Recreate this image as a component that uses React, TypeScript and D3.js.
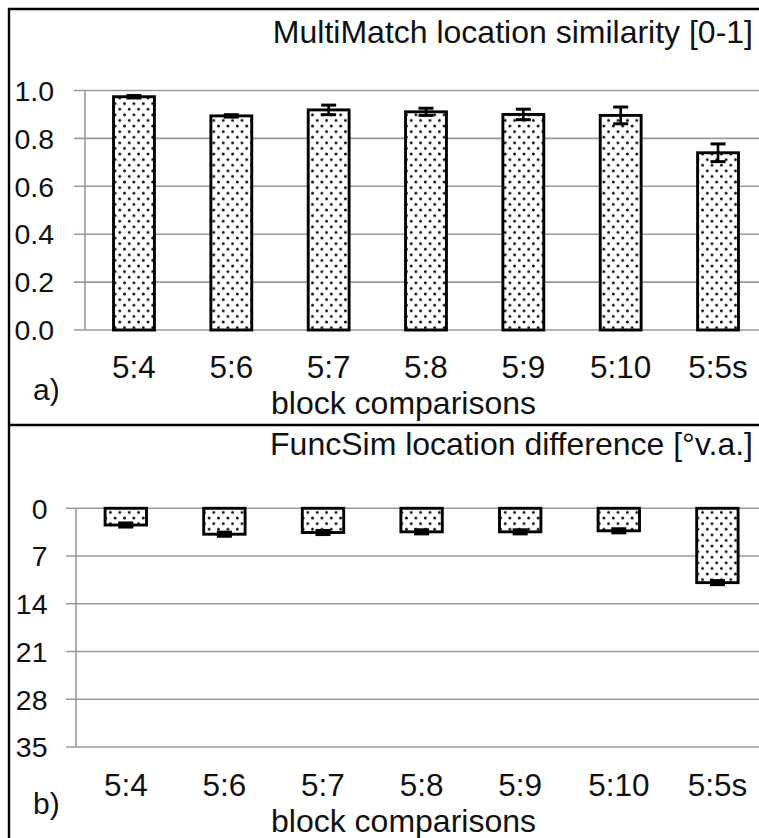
import React from "react";
import * as d3 from "d3";

const categories = ["5:4", "5:6", "5:7", "5:8", "5:9", "5:10", "5:5s"];
const simValues = [0.974, 0.894, 0.919, 0.911, 0.9, 0.896, 0.74];
const simErrors = [0.005, 0.005, 0.02, 0.015, 0.022, 0.035, 0.037];
const simTicks = [0, 0.2, 0.4, 0.6, 0.8, 1.0];
const diffValues = [2.45, 3.8, 3.55, 3.45, 3.45, 3.3, 10.9];
const diffErrors = [0.3, 0.3, 0.3, 0.3, 0.3, 0.3, 0.3];
const diffTicks = [0, 7, 14, 21, 28, 35];

const titleA = "MultiMatch location similarity [0-1]";
const titleB = "FuncSim location difference [°v.a.]";
const xTitle = "block comparisons";

const FONT = "Liberation Sans, Arial, sans-serif";
const GRID = "#9a9a9a";

type PanelProps = {
  values: number[];
  errors: number[];
  ticks: number[];
  domain: [number, number];
  yRange: [number, number];
  xRange: [number, number];
  axisX: number;
  tickStart: number;
  labelX: number;
  fmt: (v: number) => string;
  title: string;
  titleY: number;
  xLabelY: number;
  panelLabel: string;
  panelLabelY: number;
  xTitleY: number;
};

function Panel(p: PanelProps) {
  const x = d3
    .scaleBand<string>()
    .domain(categories)
    .range(p.xRange)
    .paddingInner(0.58)
    .paddingOuter(0.29);
  const y = d3.scaleLinear().domain(p.domain).range(p.yRange);
  const bw = x.bandwidth();
  const capW = 15;
  return (
    <g>
      {p.ticks.map((t) => (
        <g key={t}>
          <line x1={p.tickStart} x2={759} y1={y(t)} y2={y(t)} stroke={GRID} strokeWidth={1.6} />
          <text
            x={p.labelX}
            y={y(t)}
            dy="0.36em"
            textAnchor="end"
            fontFamily={FONT}
            fontSize={28.5}
            fill="#111"
          >
            {p.fmt(t)}
          </text>
        </g>
      ))}
      <line
        x1={p.axisX}
        x2={p.axisX}
        y1={y(p.domain[0])}
        y2={y(p.domain[1])}
        stroke={GRID}
        strokeWidth={1.6}
      />
      {categories.map((c, i) => {
        const v = p.values[i];
        const e = p.errors[i];
        const x0 = x(c)!;
        const cx = x0 + bw / 2;
        const yTop = Math.min(y(0), y(v));
        const h = Math.abs(y(v) - y(0));
        return (
          <g key={c}>
            <rect
              x={x0}
              y={yTop}
              width={bw}
              height={h}
              fill="url(#dots)"
              stroke="#000"
              strokeWidth={2.9}
            />
            <line x1={cx} x2={cx} y1={y(v - e)} y2={y(v + e)} stroke="#000" strokeWidth={2.6} />
            <line x1={cx - capW / 2} x2={cx + capW / 2} y1={y(v - e)} y2={y(v - e)} stroke="#000" strokeWidth={3} />
            <line x1={cx - capW / 2} x2={cx + capW / 2} y1={y(v + e)} y2={y(v + e)} stroke="#000" strokeWidth={3} />
            <text
              x={cx}
              y={p.xLabelY}
              textAnchor="middle"
              fontFamily={FONT}
              fontSize={31.5}
              fill="#111"
            >
              {c}
            </text>
          </g>
        );
      })}
      <text x={753} y={p.titleY} textAnchor="end" fontFamily={FONT} fontSize={32} fill="#111">
        {p.title}
      </text>
      <text x={33} y={p.panelLabelY} fontFamily={FONT} fontSize={30} fill="#111">
        {p.panelLabel}
      </text>
      <text x={403.5} y={p.xTitleY} textAnchor="middle" fontFamily={FONT} fontSize={32} fill="#111">
        {xTitle}
      </text>
    </g>
  );
}

export default function App() {
  return (
    <svg
      width={759}
      height={838}
      style={{ position: "absolute", left: 0, top: 0, background: "#fff" }}
    >
      <defs>
        <pattern id="dots" patternUnits="userSpaceOnUse" width={9.4} height={11.2}>
          <rect width={9.4} height={11.2} fill="#fff" />
          <circle cx={2.3} cy={2.8} r={1.4} fill="#000" />
          <circle cx={7} cy={8.4} r={1.4} fill="#000" />
        </pattern>
      </defs>
      <rect x={0} y={0} width={759} height={838} fill="#fff" />
      <Panel
        values={simValues}
        errors={simErrors}
        ticks={simTicks}
        domain={[0, 1]}
        yRange={[330, 90.5]}
        xRange={[85.3, 766.7]}
        axisX={85}
        tickStart={74}
        labelX={54}
        fmt={(v) => d3.format(".1f")(v)}
        title={titleA}
        titleY={43}
        xLabelY={378}
        panelLabel="a)"
        panelLabelY={400}
        xTitleY={413.5}
      />
      <Panel
        values={diffValues}
        errors={diffErrors}
        ticks={diffTicks}
        domain={[0, 35]}
        yRange={[508.3, 747]}
        xRange={[76.5, 766.7]}
        axisX={76}
        tickStart={66}
        labelX={47.5}
        fmt={(v) => String(v)}
        title={titleB}
        titleY={455}
        xLabelY={795.5}
        panelLabel="b)"
        panelLabelY={814}
        xTitleY={832}
      />
      <line x1={9} x2={9} y1={8} y2={838} stroke="#000" strokeWidth={2.4} />
      <line x1={8} x2={759} y1={9} y2={9} stroke="#000" strokeWidth={2.4} />
      <line x1={8} x2={759} y1={425} y2={425} stroke="#000" strokeWidth={2.4} />
    </svg>
  );
}
